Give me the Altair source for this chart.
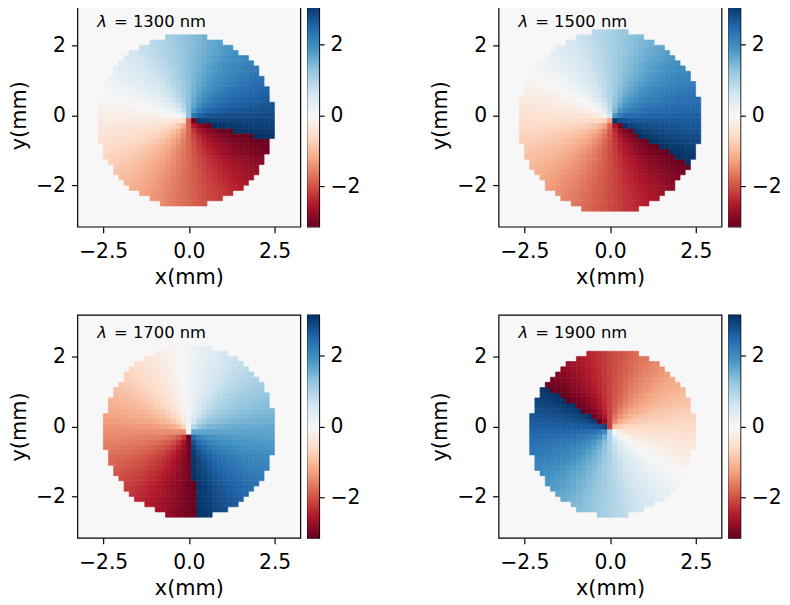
import math
import numpy as np
import pandas as pd
import altair as alt

PI = math.pi

# ---- values -----------------------------------------------------------
wavelengths = [1300, 1500, 1700, 1900]            # nm, one per panel
vortex_x = [0.0, 0.05, 0.0, 0.0]                  # mm, phase singularity
vortex_y = [-0.1, -0.1, -0.15, -0.05]             # mm
cut_angle_deg = [-15, -30, -84, 147]              # direction of the 2π jump
aperture_cx = [-0.09, 0.0, 0.03, 0.07]            # mm, centre of illuminated disc
aperture_cy = [-0.15, -0.17, -0.15, -0.2]         # mm
aperture_rx = [2.58, 2.66, 2.5, 2.41]             # mm, half width of disc
aperture_ry = [2.45, 2.6, 2.45, 2.37]             # mm, half height of disc
grid_n = 43                                       # pixels per side of phase map
x_extent = [-3.25, 3.25]                          # mm
y_extent = [-3.18, 3.18]                          # mm
x_ticks = [-2.5, 0.0, 2.5]
y_ticks = [-2, 0, 2]
cbar_ticks = [-2, 0, 2]
phase_range = [-PI, PI]
rdbu = ["#67001f", "#b2182b", "#d6604d", "#f4a582", "#fddbc7", "#f7f7f7",
        "#d1e5f0", "#92c5de", "#4393c3", "#2166ac", "#053061"]
background = "#f7f7f7"   # phase 0 outside the aperture

FONT = "DejaVu Sans"
PW, PH = 225, 225
CBW = 12

cdomain = [phase_range[0] + k * (phase_range[1] - phase_range[0]) / 10 for k in range(11)]
cscale = alt.Scale(domain=cdomain, range=rdbu, interpolate="rgb", clamp=True)


def panel_cells(i):
    xe = np.linspace(x_extent[0], x_extent[1], grid_n + 1)
    ye = np.linspace(y_extent[0], y_extent[1], grid_n + 1)
    xc = (xe[:-1] + xe[1:]) / 2
    yc = (ye[:-1] + ye[1:]) / 2
    X, Y = np.meshgrid(xc, yc)
    X0, Y0 = np.meshgrid(xe[:-1], ye[:-1])
    X1, Y1 = np.meshgrid(xe[1:], ye[1:])
    theta = np.arctan2(Y - vortex_y[i], X - vortex_x[i])
    td = np.deg2rad(cut_angle_deg[i])
    phase = -PI + np.mod(td - theta, 2 * PI)
    inside = ((X - aperture_cx[i]) / aperture_rx[i]) ** 2 + \
             ((Y - aperture_cy[i]) / aperture_ry[i]) ** 2 <= 1.0
    m = inside.ravel()
    return pd.DataFrame({
        "x0": X0.ravel()[m].round(4), "x1": X1.ravel()[m].round(4),
        "y0": Y0.ravel()[m].round(4), "y1": Y1.ravel()[m].round(4),
        "phase": phase.ravel()[m].round(4),
    })


def heat_panel(i):
    df = panel_cells(i)
    heat = alt.Chart(df).mark_rect(strokeWidth=0.6, clip=True).encode(
        x=alt.X("x0:Q", scale=alt.Scale(domain=x_extent, nice=False, zero=False),
                axis=alt.Axis(values=x_ticks, format=".1f", title="x(mm)",
                              tickSize=6, labelPadding=9, titlePadding=5)),
        x2="x1:Q",
        y=alt.Y("y0:Q", scale=alt.Scale(domain=y_extent, nice=False, zero=False),
                axis=alt.Axis(values=y_ticks, format="d", title="y(mm)",
                              tickSize=6, labelPadding=6, titlePadding=6)),
        y2="y1:Q",
        fill=alt.Fill("phase:Q", scale=cscale, legend=None),
        stroke=alt.Stroke("phase:Q", scale=cscale, legend=None),
    )
    lam = alt.Chart(pd.DataFrame({"t": ["λ"]})).mark_text(
        align="left", baseline="alphabetic", font=FONT, fontSize=16.5,
        fontStyle="italic", color="black"
    ).encode(x=alt.value(20), y=alt.value(23), text="t:N")
    rest = alt.Chart(pd.DataFrame({"t": [f"= {wavelengths[i]} nm"]})).mark_text(
        align="left", baseline="alphabetic", font=FONT, fontSize=16.5, color="black"
    ).encode(x=alt.value(37), y=alt.value(23), text="t:N")
    return alt.layer(heat, lam, rest).properties(width=PW, height=PH)


def colorbar():
    stops = [{"offset": k / 10, "color": c} for k, c in enumerate(rdbu)]
    grad = {"gradient": "linear", "x1": 0, "y1": 1, "x2": 0, "y2": 0, "stops": stops}
    return alt.Chart(pd.DataFrame({"lo": [phase_range[0]], "hi": [phase_range[1]]})).mark_rect(
        color=grad
    ).encode(
        x=alt.value(0), x2=alt.value(CBW),
        y=alt.Y("lo:Q", scale=alt.Scale(domain=phase_range, nice=False, zero=False),
                axis=alt.Axis(orient="right", values=cbar_ticks, format="d", title=None,
                              tickSize=5, labelPadding=6)),
        y2="hi:Q",
    ).properties(width=CBW, height=PH)


def unit(i):
    return alt.hconcat(heat_panel(i), colorbar(), spacing=5)


row1 = alt.hconcat(unit(0), unit(1), spacing=69)
row2 = alt.hconcat(unit(2), unit(3), spacing=69)

chart = alt.vconcat(row1, row2, spacing=25).properties(
    padding={"left": 0, "top": -8, "right": 0, "bottom": 0}
).configure_view(
    stroke="black", strokeWidth=1.2, fill=background
).configure_axis(
    grid=False, domain=False,
    labelFont=FONT, labelFontSize=20.5, labelColor="black",
    tickColor="black", tickWidth=1.2,
    titleFont=FONT, titleFontSize=21, titleFontWeight="normal", titleColor="black",
)

chart.save("out.html", embed_options={"renderer": "svg", "actions": False})
